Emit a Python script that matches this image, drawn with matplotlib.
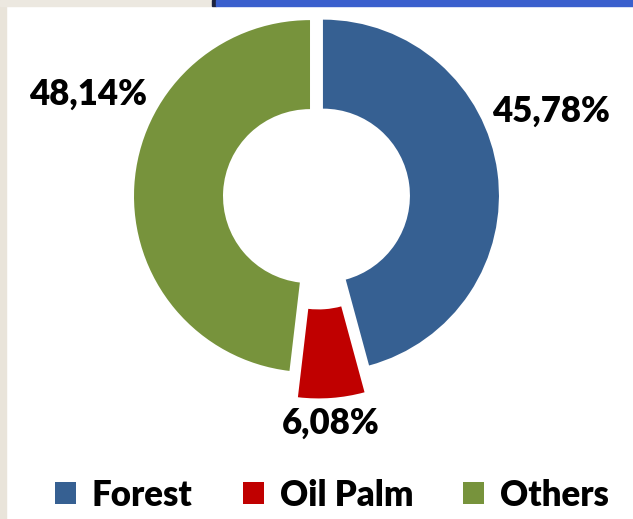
import matplotlib
matplotlib.use("Agg")
import matplotlib.pyplot as plt
from matplotlib.patches import Rectangle

categories = ["Forest", "Oil Palm", "Others"]
values = [45.78, 6.08, 48.14]
value_labels = ["45,78%", "6,08%", "48,14%"]
colors = ["#366092", "#C00000", "#77933C"]

W, H = 633, 519
fig = plt.figure(figsize=(W / 100, H / 100), dpi=100)
fig.patch.set_facecolor("white")
ax = fig.add_axes([0, 0, 1, 1])
ax.set_xlim(0, W)
ax.set_ylim(0, H)
ax.axis("off")

# background decorations (slide frame)
ax.add_patch(Rectangle((0, 0), 6, H, color="#E9E4DA", zorder=0))
ax.add_patch(Rectangle((0, H - 6), 212, 6, color="#ECE8E0", zorder=0))
ax.add_patch(Rectangle((212, H - 6), 4, 6, color="#1C2340", zorder=0))
ax.add_patch(Rectangle((216, H - 6), W - 216, 6, color="#3A5FCD", zorder=0))

R = 176
cx, cy = 316.5, H - 196.5
wedges, _ = ax.pie(values, colors=colors, startangle=90, counterclock=False,
                   radius=R, center=(cx, cy), explode=[6.5, 26, 6.5],
                   wedgeprops=dict(width=89, linewidth=0), frame=True)
ax.set_xlim(0, W)
ax.set_ylim(0, H)
ax.set_aspect("auto")
ax.axis("off")

font = "Lato"
label_pos = [(551, H - 111), (331, H - 423), (88, H - 94)]
for (x, y), t in zip(label_pos, value_labels):
    ax.text(x, y, t, ha="center", va="center", fontsize=25, fontweight="heavy",
            family=font, color="black")

leg = ax.legend(wedges, categories, loc="center", bbox_to_anchor=(332 / W, (H - 495) / H),
                ncol=3, frameon=False, prop=dict(family=font, weight="heavy", size=25),
                handlelength=0.6, handleheight=0.6, handletextpad=0.46,
                columnspacing=1.45, borderpad=0)

fig.savefig("out.png", dpi=100)
